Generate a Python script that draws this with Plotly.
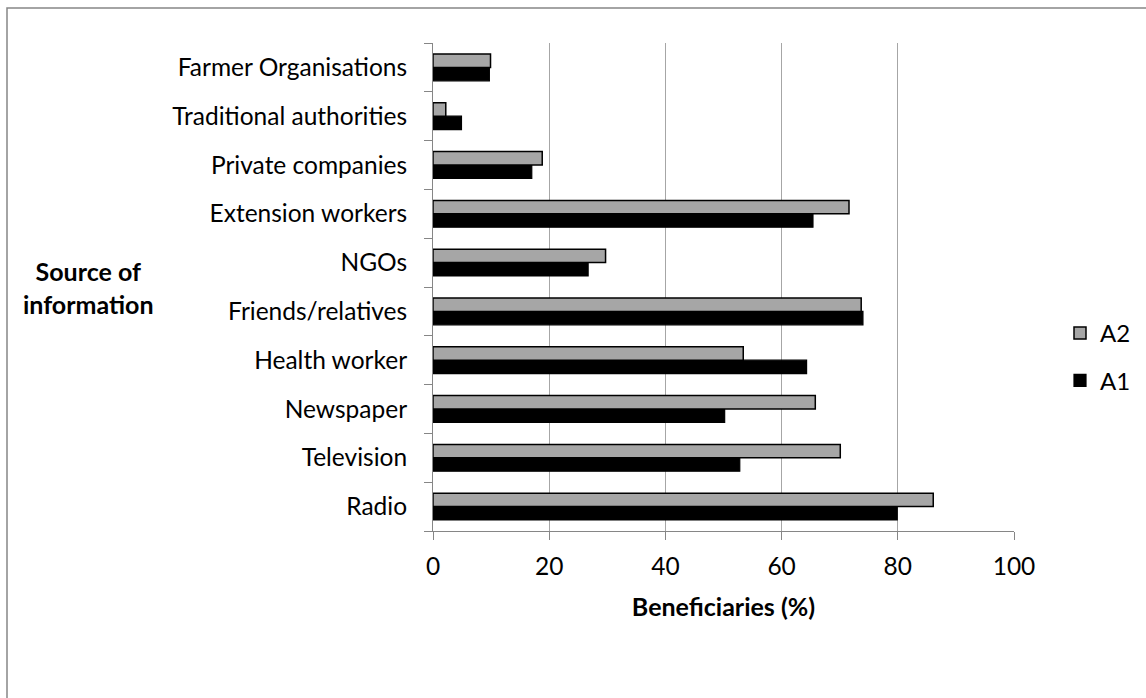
import plotly.graph_objects as go

categories = ["Radio", "Television", "Newspaper", "Health worker", "Friends/relatives",
              "NGOs", "Extension workers", "Private companies", "Traditional authorities",
              "Farmer Organisations"]
a1_values = [79.9, 52.8, 50.2, 64.3, 74.0, 26.7, 65.4, 17.0, 4.9, 9.7]
a2_values = [86.1, 70.1, 65.8, 53.4, 73.7, 29.7, 71.6, 18.8, 2.2, 9.9]
x_ticks = [0, 20, 40, 60, 80, 100]

FONT = "Lato"
W, H = 1146, 698
L, R, T, B = 433, 132, 43, 167
pw = W - L - R
ph = H - T - B

fig = go.Figure()
fig.add_trace(go.Bar(y=categories, x=a1_values, name="A1", orientation="h",
                     marker=dict(color="#000000", line=dict(color="#000000", width=1.2)),
                     legendgroup="a1", legendrank=2))
fig.add_trace(go.Bar(y=categories, x=a2_values, name="A2", orientation="h",
                     marker=dict(color="#a6a6a6", line=dict(color="#000000", width=1.5)),
                     legendgroup="a2", legendrank=1))

fig.update_layout(
    width=W, height=H,
    margin=dict(l=L, r=R, t=T, b=B, pad=0, autoexpand=False),
    paper_bgcolor="white", plot_bgcolor="white",
    barmode="group", bargap=0.45, bargroupgap=0,
    font=dict(family=FONT, size=24, color="#000000"),
    showlegend=True,
    legend=dict(x=(1060 - L) / pw, y=1 - (311 - T) / ph, xanchor="left", yanchor="top",
                traceorder="grouped", tracegroupgap=13, font=dict(size=24),
                bgcolor="rgba(0,0,0,0)", itemwidth=30),
    xaxis=dict(range=[0, 100], tickvals=x_ticks, ticks="outside", ticklen=8,
               tickcolor="#868686", showgrid=True, gridcolor="#a6a6a6", gridwidth=1,
               showline=True, linecolor="#868686", linewidth=1, zeroline=False,
               tickfont=dict(size=24.5), ticklabelstandoff=6,
               title=dict(text="<b>Beneficiaries (%)</b>", font=dict(size=25), standoff=19)),
    yaxis=dict(type="category", ticks="outside", ticklen=8, tickcolor="#868686",
               tickson="boundaries", showline=True, linecolor="#868686", linewidth=1,
               showgrid=False, tickfont=dict(size=24.5), ticklabelstandoff=20),
    annotations=[dict(text="<b>Source of<br>information</b>", xref="paper", yref="paper",
                      x=(88 - L) / pw, y=0.5, xanchor="center", yanchor="middle",
                      showarrow=False, align="center", font=dict(size=25))],
    shapes=[dict(type="rect", xref="paper", yref="paper",
                 x0=(7 - L) / pw, x1=(1200 - L) / pw,
                 y0=1 - (760 - T) / ph, y1=1 - (8 - T) / ph,
                 line=dict(color="#868686", width=1.5), fillcolor="rgba(0,0,0,0)",
                 layer="below")],
)

fig.write_html("out.html", config={"displayModeBar": False},
               post_script="document.body.style.margin='0';")
